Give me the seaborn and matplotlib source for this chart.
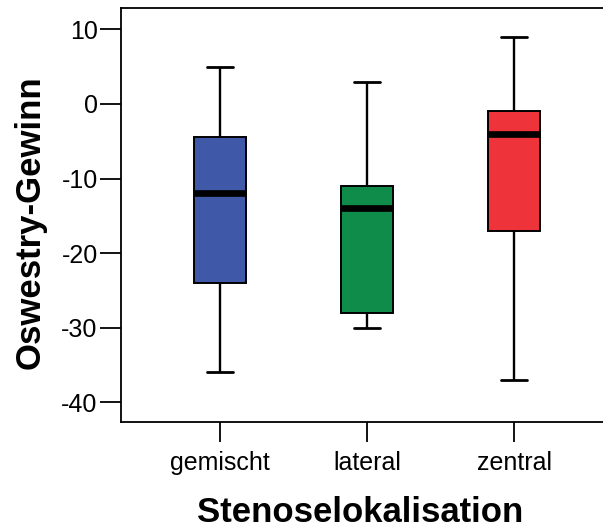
import matplotlib
matplotlib.use("Agg")
import matplotlib.pyplot as plt
import numpy as np
import pandas as pd
import seaborn as sns

# Five-number summaries per group: min, Q1, median, Q3, max
categories = ["gemischt", "lateral", "zentral"]
mins = [-36, -30, -37]
q1s = [-24, -28, -17]
medians = [-12, -14, -4]
q3s = [-4.5, -11, -1]
maxs = [5, 3, 9]
colors = ["#3F58A7", "#108C4A", "#EF333A"]
y_ticks = [10, 0, -10, -20, -30, -40]

# Five values per group reproduce exactly the quartiles with linear percentiles
rows = []
for cat, lo, a, m, b, hi in zip(categories, mins, q1s, medians, q3s, maxs):
    for v in (lo, a, m, b, hi):
        rows.append({"Stenoselokalisation": cat, "Oswestry-Gewinn": v})
df = pd.DataFrame(rows)

sns.set_theme(style="white")
plt.rcParams["font.family"] = ["Liberation Sans", "DejaVu Sans"]
plt.rcParams["text.color"] = "black"
plt.rcParams["axes.labelcolor"] = "black"
plt.rcParams["xtick.color"] = "black"
plt.rcParams["ytick.color"] = "black"

W, H = 603, 529
left_px, right_px, top_px, bottom_px = 121.3, 612.7, 8.0, 422.3

fig = plt.figure(figsize=(W / 100, H / 100), dpi=100)
ax = fig.add_axes([left_px / W, 1 - bottom_px / H,
                   (right_px - left_px) / W, (bottom_px - top_px) / H])

sns.boxplot(
    data=df, x="Stenoselokalisation", y="Oswestry-Gewinn",
    hue="Stenoselokalisation", palette=colors, legend=False,
    order=categories, whis=np.inf, width=0.35, saturation=1,
    linecolor="black", linewidth=1.4,
    medianprops={"color": "black", "linewidth": 4.8, "solid_capstyle": "butt"},
    whiskerprops={"color": "black", "linewidth": 1.7},
    capprops={"color": "black", "linewidth": 2.0},
    boxprops={"edgecolor": "black", "linewidth": 1.4},
    ax=ax,
)

ax.set_xlim(-0.671, 2.671)
ax.set_ylim(-42.68, 12.86)
ax.set_yticks(y_ticks)
ax.set_yticklabels([str(t) for t in y_ticks])

for side in ["left", "bottom", "top", "right"]:
    ax.spines[side].set_visible(True)
    ax.spines[side].set_color("black")
    ax.spines[side].set_linewidth(1.3)

ax.tick_params(axis="y", which="major", direction="out", length=15, width=1.3,
               labelsize=18, pad=2, left=True)
ax.tick_params(axis="x", which="major", direction="out", length=14.4, width=1.3,
               labelsize=18, pad=6, bottom=True)

ax_h = bottom_px - top_px
ax_w = right_px - left_px
ax.set_xlabel("Stenoselokalisation", fontsize=25, fontweight="bold", va="baseline")
ax.set_ylabel("Oswestry-Gewinn", fontsize=25, fontweight="bold", va="center")
ax.xaxis.set_label_coords((360.3 - left_px) / ax_w, (bottom_px - 522) / ax_h)
ax.yaxis.set_label_coords((30 - left_px) / ax_w, (bottom_px - 222) / ax_h)

fig.savefig("out.png", dpi=100)
